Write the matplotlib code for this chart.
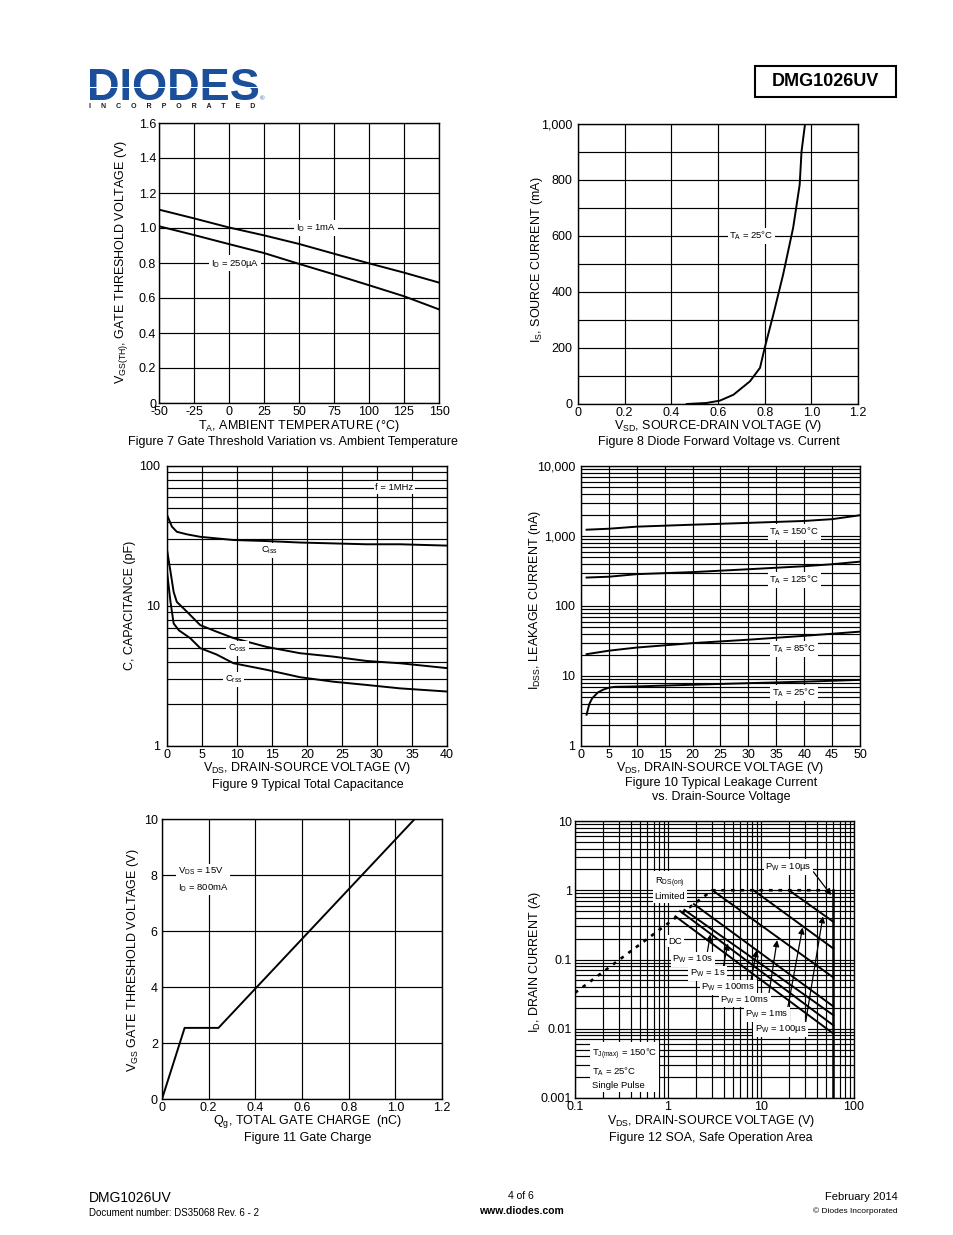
import matplotlib
matplotlib.use('Agg')
import matplotlib.pyplot as plt
from matplotlib.ticker import FixedLocator, FixedFormatter, NullFormatter, LogLocator, MultipleLocator
from matplotlib.patches import Rectangle
import numpy as np

# ---------------- data ----------------
# Figure 7
temp_c = [-50, -25, 0, 25, 50, 75, 100, 125, 150]
vth_id_1ma = [1.105, 1.055, 1.003, 0.958, 0.909, 0.853, 0.798, 0.745, 0.688]
vth_id_250ua = [1.01, 0.96, 0.908, 0.857, 0.795, 0.735, 0.673, 0.61, 0.535]
fig7_xticks = [-50, -25, 0, 25, 50, 75, 100, 125, 150]
fig7_xlabels = ['-50', '-25', '0', '25', '50', '75', '100', '125', '150']
fig7_yticks = [0, 0.2, 0.4, 0.6, 0.8, 1.0, 1.2, 1.4, 1.6]
fig7_ylabels = ['0', '0.2', '0.4', '0.6', '0.8', '1.0', '1.2', '1.4', '1.6']

# Figure 8
vsd_v = [0.466, 0.55, 0.608, 0.666, 0.737, 0.78, 0.80, 0.837, 0.879, 0.922, 0.95, 0.958, 0.973]
is_ma = [0, 3.6, 12, 33, 81, 129, 200, 319, 462, 629, 783, 902, 1000]
fig8_xticks = [0, 0.2, 0.4, 0.6, 0.8, 1.0, 1.2]
fig8_xlabels = ['0', '0.2', '0.4', '0.6', '0.8', '1.0', '1.2']
fig8_yticks = [0, 200, 400, 600, 800, 1000]
fig8_ylabels = ['0', '200', '400', '600', '800', '1,000']

# Figure 9
vds_ciss = [0, 0.7, 1.4, 2.85, 4.75, 7.1, 9.5, 14.25, 19, 23.75, 28.5, 33.3, 40]
ciss_pf = [44.7, 36.9, 33.9, 32.5, 31.2, 30.4, 29.6, 29.1, 28.4, 28.0, 27.6, 27.6, 27.0]
vds_coss = [0, 0.5, 0.95, 1.4, 2.85, 4.75, 7.1, 9.5, 14.25, 19, 23.75, 28.5, 33.3, 40]
coss_pf = [25.2, 17.6, 12.6, 10.7, 9.1, 7.3, 6.55, 5.9, 5.1, 4.6, 4.35, 4.05, 3.9, 3.6]
vds_crss = [0, 0.5, 0.95, 1.7, 3.3, 4.75, 7.1, 9.5, 14.25, 19, 23.75, 28.5, 33.3, 40]
crss_pf = [17.6, 10.7, 7.5, 6.7, 5.9, 5.0, 4.5, 3.9, 3.5, 3.1, 2.88, 2.73, 2.58, 2.45]
fig9_xticks = [0, 5, 10, 15, 20, 25, 30, 35, 40]
fig9_xlabels = ['0', '5', '10', '15', '20', '25', '30', '35', '40']
fig9_yticks = [1, 10, 100]
fig9_ylabels = ['1', '10', '100']

# Figure 10
vds_150 = [1, 5, 10, 20, 30, 40, 45, 50]
idss_150 = [1230, 1270, 1360, 1450, 1540, 1640, 1740, 1980]
vds_125 = [1, 5, 10, 20, 30, 40, 45, 50]
idss_125 = [255, 262, 285, 305, 335, 370, 395, 430]
vds_85 = [1, 5, 10, 20, 30, 40, 50]
idss_85 = [20.5, 23, 25.5, 29.5, 33, 37.5, 43]
vds_25 = [1, 1.5, 2, 3, 4, 5, 6, 10, 20, 30, 40, 50]
idss_25 = [2.8, 4.0, 4.8, 5.8, 6.4, 6.8, 7.0, 7.1, 7.5, 7.9, 8.3, 8.8]
fig10_xticks = [0, 5, 10, 15, 20, 25, 30, 35, 40, 45, 50]
fig10_xlabels = ['0', '5', '10', '15', '20', '25', '30', '35', '40', '45', '50']
fig10_yticks = [1, 10, 100, 1000, 10000]
fig10_ylabels = ['1', '10', '100', '1,000', '10,000']

# Figure 11
qg_nc = [0, 0.097, 0.242, 1.083]
vgs_v = [0, 2.54, 2.54, 10]
fig11_xticks = [0, 0.2, 0.4, 0.6, 0.8, 1.0, 1.2]
fig11_xlabels = ['0', '0.2', '0.4', '0.6', '0.8', '1.0', '1.2']
fig11_yticks = [0, 2, 4, 6, 8, 10]
fig11_ylabels = ['0', '2', '4', '6', '8', '10']

# Figure 12
rds_v = [0.1, 3.0, 60]
rds_a = [0.033, 1.0, 1.0]
soa_v_start = [1.2, 1.35, 1.5, 1.9, 3.0, 8.3, 20.0]
soa_a_start = [0.42, 0.50, 0.52, 0.63, 1.0, 1.0, 1.0]
soa_v_end = [60, 60, 60, 60, 60, 60, 60]
soa_a_end = [0.0085, 0.0112, 0.0157, 0.021, 0.055, 0.144, 0.35]
vds_max = 60
pw_labels = ['P$_{W}$ = 10s', 'P$_{W}$ = 1s', 'P$_{W}$ = 100ms', 'P$_{W}$ = 10ms',
             'P$_{W}$ = 1ms', 'P$_{W}$ = 100µs', 'P$_{W}$ = 10µs']
pw_label_v = [1.84, 2.66, 4.47, 6.7, 11.6, 16.4, 19.7]
pw_label_a = [0.1, 0.063, 0.04, 0.026, 0.016, 0.0098, 2.18]
pw_tail_v = [2.6, 3.87, 7.6, 11.9, 18.9, 29.6, 36.5]
pw_tail_a = [0.11, 0.07, 0.042, 0.0264, 0.0166, 0.0106, 1.85]
pw_tip_v = [2.85, 4.4, 9.0, 14.9, 28.0, 46.3, 57]
pw_tip_a = [0.23, 0.17, 0.136, 0.19, 0.29, 0.42, 0.85]
fig12_xticks = [0.1, 1, 10, 100]
fig12_xlabels = ['0.1', '1', '10', '100']
fig12_yticks = [0.001, 0.01, 0.1, 1, 10]
fig12_ylabels = ['0.001', '0.01', '0.1', '1', '10']

# ---------------- style ----------------
plt.rcParams['font.family'] = ['Liberation Sans', 'DejaVu Sans']
plt.rcParams['mathtext.default'] = 'regular'

W, H = 954, 1235
fig = plt.figure(figsize=(W / 100, H / 100), dpi=100)

GRID_LW = 0.85
CURVE_LW = 1.4
TICK_FS = 9
LABEL_FS = 9
ANN_FS = 6.8
BOX = dict(facecolor='white', edgecolor='none', pad=1.2)


def ftext(x, y, s, **kw):
    return fig.text(x / W, 1 - y / H, s, **kw)


def add_ax(x0, y0, x1, y1):
    return fig.add_axes([x0 / W, 1 - y1 / H, (x1 - x0) / W, (y1 - y0) / H])


def style(ax, padx=2, pady=2):
    for s in ax.spines.values():
        s.set_linewidth(1.0)
        s.set_color('black')
    ax.tick_params(which='both', length=0, labelsize=TICK_FS, colors='black')
    ax.tick_params(axis='x', pad=padx)
    ax.tick_params(axis='y', pad=pady)
    ax.grid(True, which='both', color='black', lw=GRID_LW)
    ax.set_axisbelow(True)


def set_ticks(ax, xt, xl, yt, yl):
    ax.xaxis.set_major_locator(FixedLocator(xt))
    ax.xaxis.set_major_formatter(FixedFormatter(xl))
    ax.yaxis.set_major_locator(FixedLocator(yt))
    ax.yaxis.set_major_formatter(FixedFormatter(yl))


def log_minor(axis):
    axis.set_minor_locator(LogLocator(base=10, subs=np.arange(2, 10)))
    axis.set_minor_formatter(NullFormatter())


# ---------------- header ----------------
ftext(87, 100, 'DIODES', fontsize=32.5, fontweight='bold', color='#1b4f9b', va='baseline', ha='left')
fig.patches.append(Rectangle((86 / W, 1 - 88 / H), 172 / W, 1.4 / H, transform=fig.transFigure,
                             facecolor='white', edgecolor='none', zorder=5))
ftext(262, 99, '®', fontsize=4.5, color='#1b4f9b', va='center', ha='center')
ftext(172, 106.5, '     '.join('INCORPORATED'), fontsize=5, fontweight='bold', color='#1b1b1b',
      va='center', ha='center')
fig.patches.append(Rectangle((755 / W, 1 - 97 / H), 141 / W, 31 / H, transform=fig.transFigure,
                             facecolor='white', edgecolor='black', lw=1.5))
ftext(825.5, 82, 'DMG1026UV', fontsize=13, fontweight='bold', va='center', ha='center')

# ---------------- Figure 7 ----------------
ax = add_ax(159, 123, 439, 403)
style(ax)
ax.plot(temp_c, vth_id_1ma, color='black', lw=CURVE_LW)
ax.plot(temp_c, vth_id_250ua, color='black', lw=CURVE_LW)
ax.set_xlim(-50, 150)
ax.set_ylim(0, 1.6)
set_ticks(ax, fig7_xticks, fig7_xlabels, fig7_yticks, fig7_ylabels)
ax.text(62, 1.0, 'I$_{D}$ = 1mA', fontsize=ANN_FS, ha='center', va='center', bbox=BOX)
ax.text(4.3, 0.8, 'I$_{D}$ = 250µA', fontsize=ANN_FS, ha='center', va='center', bbox=BOX)
ftext(299, 426, 'T$_{A}$, AMBIENT TEMPERATURE (°C)', fontsize=LABEL_FS, ha='center', va='center')
ftext(122, 262, 'V$_{GS(TH)}$, GATE THRESHOLD VOLTAGE (V)', fontsize=LABEL_FS, ha='center', va='center', rotation=90)
ftext(293, 442, 'Figure 7 Gate Threshold Variation vs. Ambient Temperature', fontsize=LABEL_FS, ha='center', va='center')

# ---------------- Figure 8 ----------------
ax = add_ax(578, 124, 858, 404)
style(ax, pady=4)
ax.plot(vsd_v, is_ma, color='black', lw=CURVE_LW)
ax.set_xlim(0, 1.2)
ax.set_ylim(0, 1000)
set_ticks(ax, fig8_xticks, fig8_xlabels, fig8_yticks, fig8_ylabels)
ax.yaxis.set_minor_locator(MultipleLocator(100))
ax.text(0.744, 600, 'T$_{A}$ = 25°C', fontsize=ANN_FS, ha='center', va='center', bbox=BOX)
ftext(718, 426, 'V$_{SD}$, SOURCE-DRAIN VOLTAGE (V)', fontsize=LABEL_FS, ha='center', va='center')
ftext(537, 260, 'I$_{S}$, SOURCE CURRENT (mA)', fontsize=LABEL_FS, ha='center', va='center', rotation=90)
ftext(719, 442, 'Figure 8 Diode Forward Voltage vs. Current', fontsize=LABEL_FS, ha='center', va='center')

# ---------------- Figure 9 ----------------
ax = add_ax(167, 466, 447, 746)
style(ax, pady=5)
ax.set_yscale('log')
ax.plot(vds_ciss, ciss_pf, color='black', lw=CURVE_LW)
ax.plot(vds_coss, coss_pf, color='black', lw=CURVE_LW)
ax.plot(vds_crss, crss_pf, color='black', lw=CURVE_LW)
ax.set_xlim(0, 40)
ax.set_ylim(1, 100)
set_ticks(ax, fig9_xticks, fig9_xlabels, fig9_yticks, fig9_ylabels)
log_minor(ax.yaxis)
ax.text(32.5, 70, 'f = 1MHz', fontsize=ANN_FS, ha='center', va='center', bbox=BOX)
ax.text(14.6, 25, 'C$_{iss}$', fontsize=ANN_FS, ha='center', va='center', bbox=BOX)
ax.text(10.1, 5, 'C$_{oss}$', fontsize=ANN_FS, ha='center', va='center', bbox=BOX)
ax.text(9.5, 3, 'C$_{rss}$', fontsize=ANN_FS, ha='center', va='center', bbox=BOX)
ftext(307, 768, 'V$_{DS}$, DRAIN-SOURCE VOLTAGE (V)', fontsize=LABEL_FS, ha='center', va='center')
ftext(130, 605, 'C, CAPACITANCE (pF)', fontsize=LABEL_FS, ha='center', va='center', rotation=90)
ftext(308, 785, 'Figure 9 Typical Total Capacitance', fontsize=LABEL_FS, ha='center', va='center')

# ---------------- Figure 10 ----------------
ax = add_ax(581, 466, 860, 746)
style(ax, pady=4)
ax.set_yscale('log')
ax.plot(vds_150, idss_150, color='black', lw=CURVE_LW)
ax.plot(vds_125, idss_125, color='black', lw=CURVE_LW)
ax.plot(vds_85, idss_85, color='black', lw=CURVE_LW)
ax.plot(vds_25, idss_25, color='black', lw=CURVE_LW)
ax.set_xlim(0, 50)
ax.set_ylim(1, 10000)
set_ticks(ax, fig10_xticks, fig10_xlabels, fig10_yticks, fig10_ylabels)
log_minor(ax.yaxis)
ax.text(38.2, 1140, 'T$_{A}$ = 150°C', fontsize=ANN_FS, ha='center', va='center', bbox=BOX)
ax.text(38.2, 235, 'T$_{A}$ = 125°C', fontsize=ANN_FS, ha='center', va='center', bbox=BOX)
ax.text(38.2, 24.3, 'T$_{A}$ = 85°C', fontsize=ANN_FS, ha='center', va='center', bbox=BOX)
ax.text(38.2, 5.7, 'T$_{A}$ = 25°C', fontsize=ANN_FS, ha='center', va='center', bbox=BOX)
ftext(720, 768, 'V$_{DS}$, DRAIN-SOURCE VOLTAGE (V)', fontsize=LABEL_FS, ha='center', va='center')
ftext(535, 600, 'I$_{DSS}$, LEAKAGE CURRENT (nA)', fontsize=LABEL_FS, ha='center', va='center', rotation=90)
ftext(721, 783, 'Figure 10 Typical Leakage Current', fontsize=LABEL_FS, ha='center', va='center')
ftext(721, 797, 'vs. Drain-Source Voltage', fontsize=LABEL_FS, ha='center', va='center')

# ---------------- Figure 11 ----------------
ax = add_ax(162, 819, 442, 1099)
style(ax, pady=3)
ax.plot(qg_nc, vgs_v, color='black', lw=CURVE_LW)
ax.set_xlim(0, 1.2)
ax.set_ylim(0, 10)
set_ticks(ax, fig11_xticks, fig11_xlabels, fig11_yticks, fig11_ylabels)
ax.text(0.069, 7.84, 'V$_{DS}$ = 15V\nI$_{D}$ = 800mA', fontsize=ANN_FS, ha='left', va='center',
        linespacing=1.45, bbox=BOX)
ftext(308, 1122, 'Q$_{g}$, TOTAL GATE CHARGE  (nC)', fontsize=LABEL_FS, ha='center', va='center')
ftext(133, 960, 'V$_{GS}$ GATE THRESHOLD VOLTAGE (V)', fontsize=LABEL_FS, ha='center', va='center', rotation=90)
ftext(308, 1138, 'Figure 11 Gate Charge', fontsize=LABEL_FS, ha='center', va='center')

# ---------------- Figure 12 ----------------
ax = add_ax(575, 821, 854, 1098)
style(ax, pady=2)
ax.set_xscale('log')
ax.set_yscale('log')
ax.set_xlim(0.1, 100)
ax.set_ylim(0.001, 10)
set_ticks(ax, fig12_xticks, fig12_xlabels, fig12_yticks, fig12_ylabels)
log_minor(ax.xaxis)
log_minor(ax.yaxis)
ax.plot(rds_v, rds_a, color='black', lw=1.9, dashes=(1.4, 2.2), solid_capstyle='butt')
for vs, a_s, ve, a_e in zip(soa_v_start, soa_a_start, soa_v_end, soa_a_end):
    ax.plot([vs, ve], [a_s, a_e], color='black', lw=CURVE_LW)
ax.plot([vds_max, vds_max], [0.001, 1.0], color='black', lw=1.8)
for lab, lv, la, tv, ta, pv, pa in zip(pw_labels, pw_label_v, pw_label_a, pw_tail_v, pw_tail_a,
                                       pw_tip_v, pw_tip_a):
    ax.annotate('', xy=(pv, pa), xytext=(tv, ta),
                arrowprops=dict(arrowstyle='-|>', color='black', lw=0.9, mutation_scale=9,
                                shrinkA=0, shrinkB=0))
    ax.text(lv, la, lab, fontsize=ANN_FS, ha='center', va='center', bbox=BOX, zorder=4)
ax.text(1.2, 0.184, 'DC', fontsize=ANN_FS, ha='center', va='center', bbox=BOX, zorder=4)
ax.text(1.05, 1.05, 'R$_{DS(on)}$\nLimited', fontsize=ANN_FS, ha='center', va='center',
        linespacing=1.3, bbox=BOX, zorder=4)
ax.text(0.152, 0.00266, 'T$_{J(max)}$ = 150°C\nT$_{A}$ = 25°C\nSingle Pulse', fontsize=ANN_FS,
        ha='left', va='center', linespacing=1.4, bbox=BOX, zorder=4)
ftext(711, 1121, 'V$_{DS}$, DRAIN-SOURCE VOLTAGE (V)', fontsize=LABEL_FS, ha='center', va='center')
ftext(535, 962, 'I$_{D}$, DRAIN CURRENT (A)', fontsize=LABEL_FS, ha='center', va='center', rotation=90)
ftext(711, 1138, 'Figure 12 SOA, Safe Operation Area', fontsize=LABEL_FS, ha='center', va='center')

# ---------------- footer ----------------
ftext(89, 1198, 'DMG1026UV', fontsize=10, ha='left', va='center')
ftext(89, 1213, 'Document number: DS35068 Rev. 6 - 2', fontsize=7, ha='left', va='center')
ftext(521, 1196, '4 of 6', fontsize=7.5, ha='center', va='center')
ftext(521, 1211, 'www.diodes.com', fontsize=7.5, fontweight='bold', ha='center', va='center')
ftext(898, 1197, 'February 2014', fontsize=8, ha='right', va='center')
ftext(898, 1211, '© Diodes Incorporated', fontsize=6, ha='right', va='center')

fig.savefig('out.png', dpi=100, facecolor='white')
